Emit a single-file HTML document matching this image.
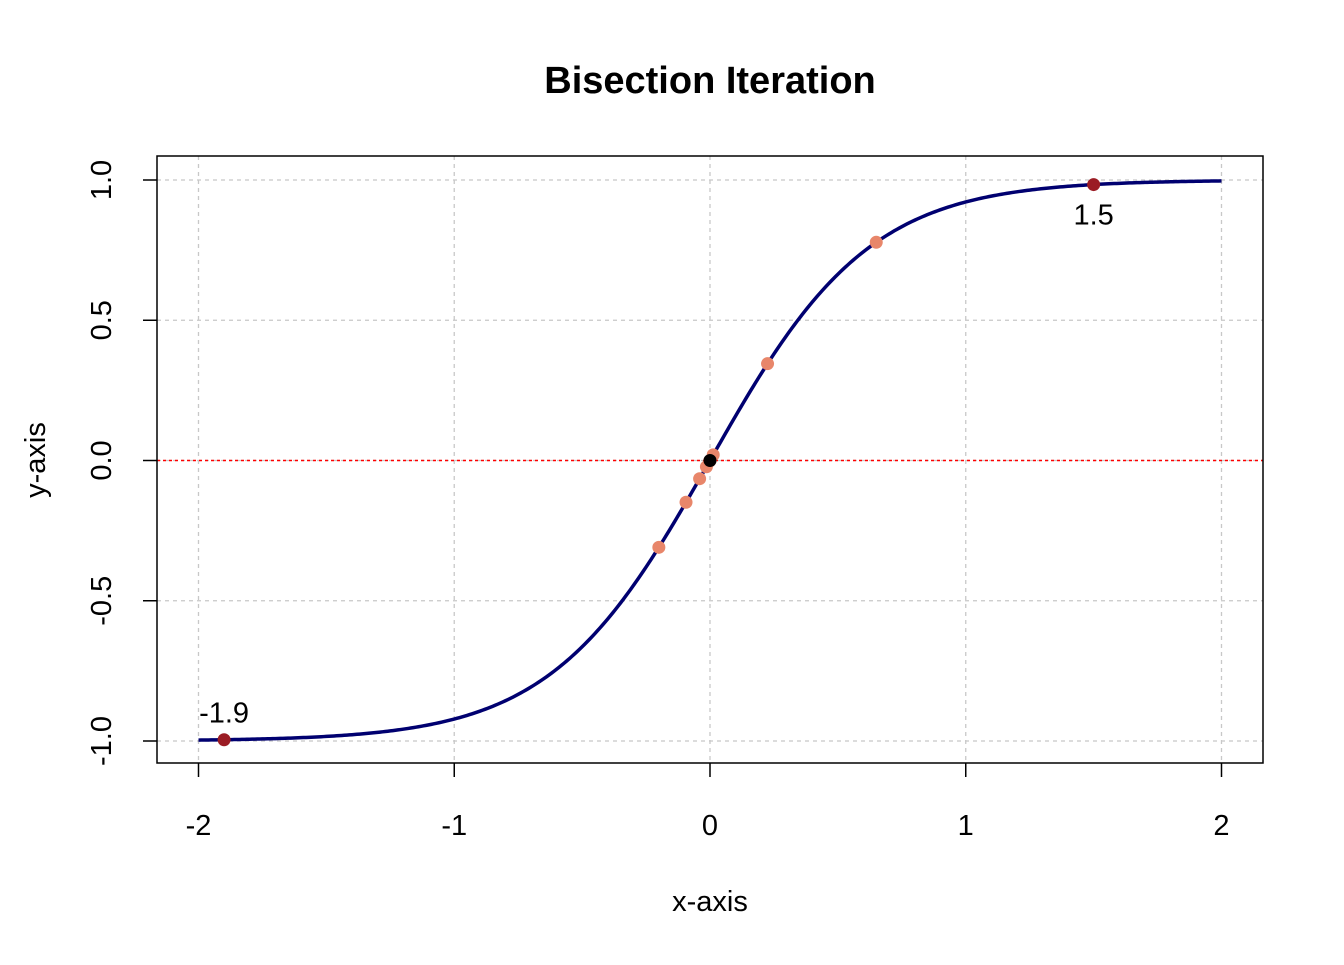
<!DOCTYPE html>
<html><head><meta charset="utf-8"><style>
html,body{margin:0;padding:0;background:#fff}
svg text{font-family:"Liberation Sans",Arial,sans-serif}
</style></head><body>
<svg id="chart" width="1344" height="960" xmlns="http://www.w3.org/2000/svg">
<text x="710" y="93" font-size="38" font-weight="bold" text-anchor="middle">Bisection Iteration</text>
<g id="grid"></g>
<g id="plot"></g>
<rect x="157" y="156" width="1106" height="607" fill="none" stroke="#000" stroke-width="1.5"/>
<g id="axes"></g>
<text x="710" y="911" font-size="29" text-anchor="middle">x-axis</text>
<text transform="translate(45,460) rotate(-90)" font-size="29" text-anchor="middle">y-axis</text>
</svg>
<script>
const xTicks = [-2, -1, 0, 1, 2];
const yTicks = [-1, -0.5, 0, 0.5, 1];
const yTickLabels = ["-1.0", "-0.5", "0.0", "0.5", "1.0"];
const endpointX = [-1.9, 1.5];
const endpointLabels = ["-1.9", "1.5"];
const iterX = [-0.2, 0.65, 0.225, 0.0125, -0.09375, -0.040625, -0.0140625, -0.00078];
const rootX = [0];
const curveSteepness = 1.6;

const NS = "http://www.w3.org/2000/svg";
const sx = v => 710 + v * 255.75;
const sy = v => 460.5 - v * 280.5;
const f = x => Math.tanh(curveSteepness * x);
function mk(tag, attrs, parent) {
  const e = document.createElementNS(NS, tag);
  for (const k in attrs) e.setAttribute(k, attrs[k]);
  parent.appendChild(e);
  return e;
}
const grid = document.getElementById('grid');
const plot = document.getElementById('plot');
const axes = document.getElementById('axes');

xTicks.forEach(t => {
  const l = mk('line', {x1: sx(t), x2: sx(t), y1: 156, y2: 763, stroke: '#c8c8c8', 'stroke-width': 1.3, 'stroke-dasharray': '4,4'}, grid);
  
  
  const tk = mk('line', {x1: sx(t), x2: sx(t), y1: 763, y2: 777, stroke: '#000', 'stroke-width': 1.5}, axes);
  
  
  const tx = mk('text', {x: sx(t), y: 835, 'font-size': 29, 'text-anchor': 'middle'}, axes);
  tx.textContent = String(t);
  
  
});
yTicks.forEach((t, i) => {
  const l = mk('line', {x1: 157, x2: 1263, y1: sy(t), y2: sy(t), stroke: '#c8c8c8', 'stroke-width': 1.3, 'stroke-dasharray': '4,4'}, grid);
  
  
  const tk = mk('line', {x1: 143, x2: 157, y1: sy(t), y2: sy(t), stroke: '#000', 'stroke-width': 1.5}, axes);
  
  
  const tx = mk('text', {transform: `translate(111,${sy(t)}) rotate(-90)`, 'font-size': 29, 'text-anchor': 'middle'}, axes);
  tx.textContent = yTickLabels[i];
  
  
});

const zl = mk('line', {x1: 157, x2: 1263, y1: sy(0), y2: sy(0), stroke: '#ff0000', 'stroke-width': 1.5, 'stroke-dasharray': '3,3'}, plot);



let d = '';
for (let i = 0; i <= 400; i++) {
  const x = -2 + 4 * i / 400;
  d += (i ? 'L' : 'M') + sx(x).toFixed(2) + ',' + sy(f(x)).toFixed(2);
}
const curve = mk('path', {d: d, fill: 'none', stroke: '#000070', 'stroke-width': 3.5}, plot);



iterX.forEach(x => {
  const c = mk('circle', {cx: sx(x), cy: sy(f(x)), r: 6.5, fill: '#e8866a'}, plot);
  
  
});
endpointX.forEach((x, i) => {
  const c = mk('circle', {cx: sx(x), cy: sy(f(x)), r: 6.5, fill: '#9b1c24'}, plot);
  
  
  const above = f(x) < 0;
  const t = mk('text', {x: sx(x), y: sy(f(x)) + (above ? -17 : 40), 'font-size': 29, 'text-anchor': 'middle'}, plot);
  t.textContent = endpointLabels[i];
  
  
});
rootX.forEach(x => {
  const c = mk('circle', {cx: sx(x), cy: sy(f(x)), r: 6.5, fill: '#000'}, plot);
  
  
});
</script>
</body></html>
